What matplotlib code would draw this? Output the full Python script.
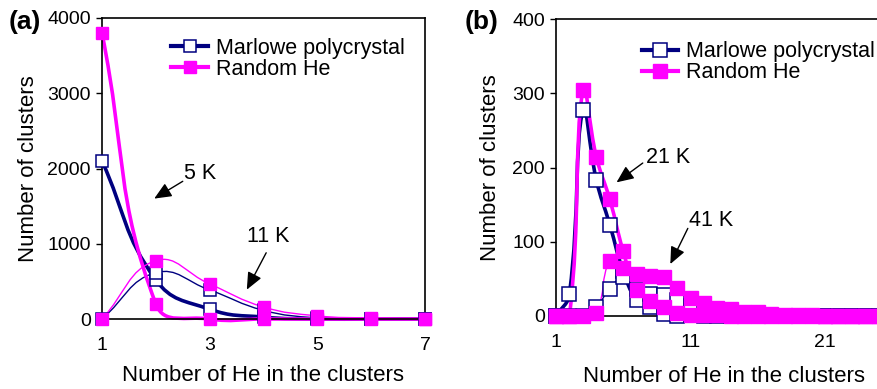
import numpy as np
import matplotlib
matplotlib.use("Agg")
import matplotlib.pyplot as plt
from matplotlib.path import Path
from matplotlib.patches import PathPatch
from matplotlib.lines import Line2D

plt.rcParams['font.family'] = ['Liberation Sans', 'DejaVu Sans']

# ---- data ----
# panel (a): 5 K (thick) and 11 K (thin)
x_a = [1, 2, 3, 4, 5, 6, 7]
marlowe_5k = [2100, 520, 130, 25, 0, 0, 0]
random_5k = [3800, 200, 0, 0, 0, 0, 0]
marlowe_11k = [0, 615, 385, 115, 15, 5, 0]
random_11k = [0, 775, 465, 160, 42, 13, 0]

# panel (b): 21 K (thick) and 41 K (thin)
x_b = list(range(1, 26))
marlowe_21k = [0, 30, 278, 183, 123, 60, 22, 12, 3, 0, 1, 0, 0,
               0, 0, 0, 0, 0, 0, 0, 0, 0, 0, 0, 0]
random_21k = [0, 0, 305, 214, 157, 87, 35, 20, 12, 4, 2, 2, 1,
              0, 0, 0, 0, 0, 0, 0, 0, 0, 0, 0, 0]
marlowe_41k = [0, 0, 0, 12, 37, 52, 37, 30, 28, 22, 13, 10, 3,
               2, 1, 1, 0, 0, 0, 0, 0, 0, 0, 0, 0]
random_41k = [0, 0, 0, 4, 74, 65, 56, 54, 52, 38, 24, 18, 11,
              9, 5, 5, 3, 2, 1, 1, 0, 0, 0, 0, 0]

labels = ['Marlowe polycrystal', 'Random He']
navy = '#000080'
magenta = '#ff00ff'


def smooth_line(ax, xs, ys, color, lw, k=0.45):
    # excel-like smoothed line, bezier control points worked out in screen space
    pts = ax.transData.transform(np.column_stack([xs, ys]).astype(float))
    n = len(pts)
    verts = [pts[0]]
    codes = [Path.MOVETO]
    for i in range(n - 1):
        p0 = pts[i - 1] if i > 0 else pts[i]
        p1, p2 = pts[i], pts[i + 1]
        p3 = pts[i + 2] if i + 2 < n else pts[i + 1]
        d01 = np.hypot(*(p1 - p0))
        d12 = np.hypot(*(p2 - p1))
        d23 = np.hypot(*(p3 - p2))
        s1 = d12 / (d01 + d12) if d01 + d12 > 0 else 0
        s2 = d12 / (d12 + d23) if d12 + d23 > 0 else 0
        c1 = p1 + (p2 - p0) * k * s1
        c2 = p2 - (p3 - p1) * k * s2
        verts += [c1, c2, p2]
        codes += [Path.CURVE4] * 3
    verts = ax.transData.inverted().transform(np.array(verts))
    patch = PathPatch(Path(verts, codes), fill=False, edgecolor=color,
                      lw=lw, clip_on=False, capstyle='round', joinstyle='round')
    ax.add_patch(patch)


def style_axes(ax):
    for s in ax.spines.values():
        s.set_linewidth(1.2)
    ax.tick_params(direction='out', length=4, width=1.0, labelsize=14)
    ax.tick_params(axis='x', pad=9)
    ax.tick_params(axis='y', pad=4)
    ax.set_xlabel('Number of He in the clusters', fontsize=16)
    ax.set_ylabel('Number of clusters', fontsize=16)


def markers(ax, xs, ys, filled, ms):
    if filled:
        ax.plot(xs, ys, ls='none', marker='s', ms=ms, mfc=magenta, mec=magenta,
                mew=1.0, clip_on=False, zorder=4)
    else:
        ax.plot(xs, ys, ls='none', marker='s', ms=ms, mfc='white', mec=navy,
                mew=1.1, clip_on=False, zorder=3)


def add_legend(ax, anchor, ms):
    handles = [
        Line2D([], [], color=navy, lw=3, marker='s', ms=ms, mfc='white', mec=navy, mew=1.1),
        Line2D([], [], color=magenta, lw=3, marker='s', ms=ms, mfc=magenta, mec=magenta),
    ]
    ax.legend(handles, labels, loc='upper left', bbox_to_anchor=anchor, frameon=False,
              fontsize=15.5, handlelength=1.7, handletextpad=0.35, labelspacing=0.0,
              borderpad=0, borderaxespad=0)


arrow_style = dict(arrowstyle='-|>,head_length=0.8,head_width=0.35',
                   color='black', lw=1.0, mutation_scale=13, shrinkA=0, shrinkB=0)

fig = plt.figure(figsize=(8.77, 3.89), dpi=100)

# ---------------- panel (a) ----------------
ax1 = fig.add_axes([102 / 877, 70 / 389, 323 / 877, 301 / 389])
ax1.set_xlim(1, 7)
ax1.set_ylim(0, 4000)
ax1.set_xticks([1, 3, 5, 7])
ax1.set_yticks([0, 1000, 2000, 3000, 4000])
style_axes(ax1)
ax1.xaxis.labelpad = 8
ax1.yaxis.labelpad = 6

smooth_line(ax1, x_a, marlowe_5k, navy, 2.6)
smooth_line(ax1, x_a, marlowe_11k, navy, 1.0)
markers(ax1, x_a, marlowe_5k, False, 9)
markers(ax1, x_a, marlowe_11k, False, 9)
smooth_line(ax1, x_a, random_5k, magenta, 2.6)
smooth_line(ax1, x_a, random_11k, magenta, 1.0)
markers(ax1, x_a, random_5k, True, 9)
markers(ax1, x_a, random_11k, True, 9)

add_legend(ax1, (0.215, 0.935), 9)

ax1.text(2.82, 1940, '5 K', fontsize=15.5, ha='center', va='center')
ax1.annotate('', xy=(1.97, 1600), xytext=(2.5, 1830), arrowprops=arrow_style)
ax1.text(4.08, 1090, '11 K', fontsize=15.5, ha='center', va='center')
ax1.annotate('', xy=(3.69, 390), xytext=(4.05, 880), arrowprops=arrow_style)

# ---------------- panel (b) ----------------
ax2 = fig.add_axes([556 / 877, 73 / 389, 336 / 877, 297 / 389])
ax2.set_xlim(1, 25.98)
ax2.set_ylim(0, 400)
ax2.set_xticks([1, 11, 21])
ax2.set_yticks([0, 100, 200, 300, 400])
style_axes(ax2)
ax2.xaxis.labelpad = 11
ax2.yaxis.labelpad = 8

smooth_line(ax2, x_b, marlowe_21k, navy, 2.6)
smooth_line(ax2, x_b, marlowe_41k, navy, 1.0)
markers(ax2, x_b, marlowe_21k, False, 9.5)
markers(ax2, x_b, marlowe_41k, False, 9.5)
smooth_line(ax2, x_b, random_21k, magenta, 2.6)
smooth_line(ax2, x_b, random_41k, magenta, 1.0)
markers(ax2, x_b, random_21k, True, 9.5)
markers(ax2, x_b, random_41k, True, 9.5)

add_legend(ax2, (0.255, 0.925), 9.5)

ax2.text(9.33, 213, '21 K', fontsize=15.5, ha='center', va='center')
ax2.annotate('', xy=(5.5, 180), xytext=(7.45, 206), arrowprops=arrow_style)
ax2.text(12.5, 128, '41 K', fontsize=15.5, ha='center', va='center')
ax2.annotate('', xy=(9.5, 70), xytext=(10.8, 118), arrowprops=arrow_style)

fig.text(9 / 877, 1 - 22 / 389, '(a)', fontsize=19, fontweight='bold', va='center')
fig.text(465 / 877, 1 - 22 / 389, '(b)', fontsize=19, fontweight='bold', va='center')

fig.savefig('out.png', dpi=100)
